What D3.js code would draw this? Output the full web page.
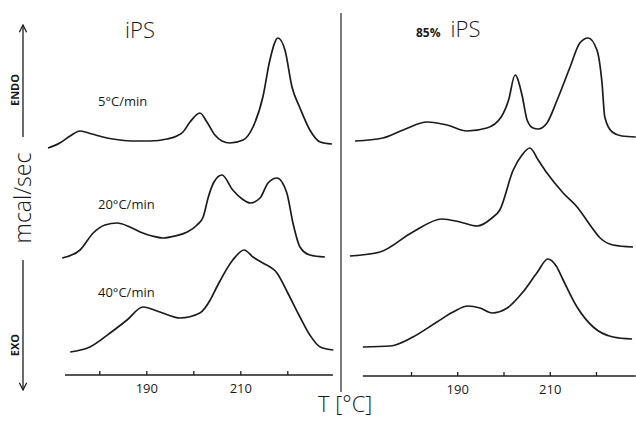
<!DOCTYPE html>
<html>
<head>
<meta charset="utf-8">
<script src="https://cdn.jsdelivr.net/npm/d3@7/dist/d3.min.js"></script>
<style>
  html, body { margin: 0; padding: 0; background: #fff; }
  svg { display: block; }
  text { fill: #1a1a1a; }
</style>
</head>
<body>
<svg id="chart" width="636" height="421"></svg>
<script>
// DSC heating traces, [temperature °C, heat flow (arb. offset units)]
const ips5 = [[169.1,22.7],[171.6,23.2],[173.8,23.9],[175.9,24.4],[178.4,24.1],[181.6,23.7],[184.4,23.5],
  [187.2,23.4],[190.8,23.4],[194.4,23.6],[196.5,23.9],[197.8,24.3],[199.3,25.3],[201.4,26.2],[202.9,25.3],
  [204.6,24.0],[206.1,23.4],[207.8,23.2],[210.6,23.5],[212.7,24.8],[214.8,27.8],[216.3,31.5],[218.0,33.7],
  [219.5,32.5],[221.0,28.8],[222.7,26.7],[224.8,24.5],[227.0,23.3],[229.5,23.1]];
const ips20 = [[172.1,11.7],[175.9,12.5],[178.7,14.2],[181.2,15.0],[183.8,15.2],[186.5,14.8],[188.7,14.3],
  [191.2,13.9],[193.6,13.7],[196.1,13.9],[198.7,14.3],[200.8,15.0],[202.1,15.8],[203.2,17.8],[204.4,19.3],
  [206.1,20.0],[208.4,18.5],[210.4,17.6],[212.1,17.2],[214.2,17.7],[215.9,19.2],[217.8,19.7],[219.9,18.2],
  [221.2,15.2],[222.7,12.8],[224.8,12.0],[228.0,11.8]];
const ips40 = [[173.8,2.3],[178.0,2.8],[182.3,4.2],[185.9,5.5],[189.3,6.8],[192.9,6.3],[197.2,5.7],
  [201.4,6.2],[203.6,7.5],[205.0,8.8],[208.4,11.5],[210.8,12.5],[212.7,11.8],[214.8,11.2],[217.8,10.2],
  [220.1,8.2],[222.7,5.8],[224.8,4.0],[227.0,2.8],[229.8,2.5]];

const blend5 = [[167.9,23.4],[173.9,23.7],[178.3,24.5],[183.5,25.3],[187.8,25.0],[192.1,24.4],[196.4,24.7],
  [199.5,25.8],[201.1,27.5],[202.5,30.0],[204.0,28.0],[205.1,25.5],[206.4,24.7],[207.5,24.6],[209.4,25.2],
  [211.6,27.5],[214.4,30.8],[216.5,33.2],[218.3,33.7],[220.2,32.5],[221.3,29.2],[221.9,25.8],[223.5,24.3],
  [225.6,23.9],[228.6,23.8]];
const blend20 = [[166.8,11.9],[173.3,12.3],[180.4,14.3],[186.7,15.6],[190.6,15.3],[194.3,14.9],[197.5,15.7],
  [199.2,16.5],[202.1,20.5],[204.0,22.0],[205.7,22.7],[207.5,21.5],[209.4,20.2],[212.9,18.2],[216.1,16.7],
  [218.7,15.0],[220.9,13.7],[223.7,13.0],[228.0,12.8]];
const blend40 = [[169.6,2.8],[175.5,2.9],[180.4,3.8],[185.6,5.3],[189.1,6.3],[192.3,6.9],[194.9,6.7],
  [197.5,6.2],[200.8,6.7],[204.2,8.3],[207.2,10.2],[209.6,11.6],[211.4,10.9],[212.9,9.5],[215.9,6.8],
  [219.4,4.8],[223.7,3.8],[227.8,3.6]];

const rateLabels = ["5°C/min", "20°C/min", "40°C/min"];
const tickTemps = [180, 190, 200, 210, 220];
const labelledTemps = [190, 210];

const svg = d3.select("#chart");
const fontMain = "'Open Sans', 'DejaVu Sans', sans-serif";

// shared vertical scale (heat flow, arbitrary units, curves offset)
const y = d3.scaleLinear().domain([0, 35]).range([375, 25]);

const panels = [
  { curves: [ips5, ips20, ips40], x: d3.scaleLinear().domain([180, 220]).range([99.3, 287.3]),
    axisFrom: 172.7, axisTo: 229.7, axisY: 375 },
  { curves: [blend5, blend20, blend40], x: d3.scaleLinear().domain([180, 220]).range([411, 596]),
    axisFrom: 169.6, axisTo: 228.6, axisY: 376 }
];

panels.forEach(p => {
  const g = svg.append("g");
  const line = d3.line()
    .x(d => p.x(d[0]))
    .y(d => y(d[1]))
    .curve(d3.curveMonotoneX);

  g.selectAll("path.trace").data(p.curves).join("path")
    .attr("class", "trace")
    .attr("d", line)
    .attr("fill", "none")
    .attr("stroke", "#1c1c1c")
    .attr("stroke-width", 1.7)
    .attr("stroke-linejoin", "round");

  // temperature axis: ticks point upward, labels only at 190 and 210
  const axis = d3.axisBottom(p.x)
    .tickValues(tickTemps)
    .tickSize(-4)
    .tickPadding(9)
    .tickFormat(d => labelledTemps.includes(d) ? d : "");
  const ag = g.append("g").attr("transform", `translate(0,${p.axisY})`).call(axis);
  ag.select(".domain").remove();
  ag.selectAll(".tick line").attr("stroke", "#1c1c1c").attr("stroke-width", 1.3);
  ag.selectAll(".tick text")
    .attr("font-family", fontMain)
    .attr("font-size", 13)
    .attr("fill", "#1a1a1a");
  ag.append("line")
    .attr("x1", p.x(p.axisFrom)).attr("x2", p.x(p.axisTo))
    .attr("y1", 0).attr("y2", 0)
    .attr("stroke", "#1c1c1c").attr("stroke-width", 1.4);
});

// heating-rate annotations
const rateY = [106, 209, 297];
svg.selectAll("text.rate").data(rateLabels).join("text")
  .attr("class", "rate")
  .attr("x", 98)
  .attr("y", (d, i) => rateY[i])
  .attr("font-family", fontMain)
  .attr("font-size", 13)
  .text(d => d);

// panel titles
svg.append("text")
  .attr("x", 140).attr("y", 38)
  .attr("text-anchor", "middle")
  .attr("font-family", fontMain)
  .attr("font-weight", 300)
  .attr("font-size", 22)
  .text("iPS");

const t2 = svg.append("text")
  .attr("x", 416).attr("y", 37)
  .attr("font-family", fontMain);
t2.append("tspan").attr("font-size", 12).attr("font-weight", 700).text("85%");
t2.append("tspan").attr("dx", 10).attr("font-size", 22).attr("font-weight", 300).text("iPS");

// panel divider
svg.append("line")
  .attr("x1", 341).attr("x2", 341).attr("y1", 13).attr("y2", 392)
  .attr("stroke", "#333").attr("stroke-width", 1.3);

// x-axis title
svg.append("text")
  .attr("x", 318).attr("y", 412)
  .attr("font-family", fontMain)
  .attr("font-weight", 300)
  .attr("font-size", 22)
  .text("T [°C]");

// y-axis: endo / exo arrows and unit label
const defs = svg.append("defs");
defs.append("marker")
  .attr("id", "arrow")
  .attr("viewBox", "0 0 10 10")
  .attr("refX", 9).attr("refY", 5)
  .attr("markerWidth", 7).attr("markerHeight", 7)
  .attr("orient", "auto")
  .append("path")
  .attr("d", "M1,1 L9,5 L1,9")
  .attr("fill", "none")
  .attr("stroke", "#1c1c1c")
  .attr("stroke-width", 1.4);

svg.append("line")
  .attr("x1", 23).attr("x2", 23).attr("y1", 137).attr("y2", 25)
  .attr("stroke", "#1c1c1c").attr("stroke-width", 1.3)
  .attr("marker-end", "url(#arrow)");
svg.append("line")
  .attr("x1", 23).attr("x2", 23).attr("y1", 260).attr("y2", 390)
  .attr("stroke", "#1c1c1c").attr("stroke-width", 1.3)
  .attr("marker-end", "url(#arrow)");

svg.append("text")
  .attr("transform", "translate(19,90) rotate(-90)")
  .attr("text-anchor", "middle")
  .attr("font-family", fontMain)
  .attr("font-weight", 700)
  .attr("font-size", 11)
  .text("ENDO");
svg.append("text")
  .attr("transform", "translate(19,345) rotate(-90)")
  .attr("text-anchor", "middle")
  .attr("font-family", fontMain)
  .attr("font-weight", 700)
  .attr("font-size", 11)
  .text("EXO");
svg.append("text")
  .attr("transform", "translate(31,198) rotate(-90)")
  .attr("text-anchor", "middle")
  .attr("font-family", fontMain)
  .attr("font-weight", 300)
  .attr("font-size", 23)
  .text("mcal/sec");
</script>
</body>
</html>
